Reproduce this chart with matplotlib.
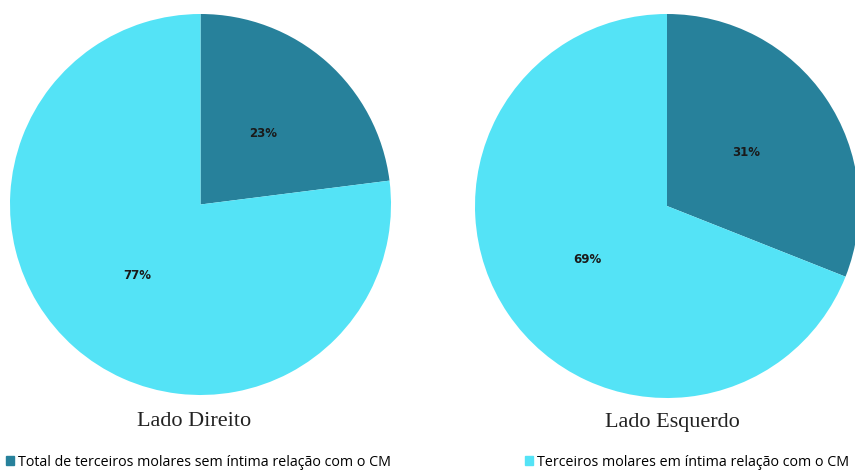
import matplotlib.pyplot as plt
from matplotlib.patches import Patch

# data
categorias = ["Total de terceiros molares sem íntima relação com o CM",
              "Terceiros molares em íntima relação com o CM"]
lado_direito = [23, 77]
lado_esquerdo = [31, 69]
titulos = ["Lado Direito", "Lado Esquerdo"]
cores = ["#27819B", "#54E3F6"]

W, H = 855, 470
fig = plt.figure(figsize=(W / 100, H / 100), dpi=100)

# axes boxes in pixels: (left, top, size)
caixas = [(10, 14, 381), (475, 14, 384)]

for (x0, y0, s), valores in zip(caixas, [lado_direito, lado_esquerdo]):
    ax = fig.add_axes([x0 / W, 1 - (y0 + s) / H, s / W, s / H])
    ax.pie(valores, colors=cores, startangle=90, counterclock=False,
           autopct="%d%%", pctdistance=0.5, radius=1,
           textprops=dict(fontsize=8.5, fontweight="bold", color="#1a1a1a"))
    ax.set_xlim(-1, 1)
    ax.set_ylim(-1, 1)
    ax.axis("off")

fig.text(194 / W, 1 - 421 / H, titulos[0], ha="center", va="center",
         fontsize=16, family="Liberation Serif", color="#222222")
fig.text(672 / W, 1 - 422 / H, titulos[1], ha="center", va="center",
         fontsize=16, family="Liberation Serif", color="#222222")

for i, (xl, cat) in enumerate(zip([0 / W, 519 / W], categorias)):
    fig.legend(handles=[Patch(color=cores[i], label=cat)], loc="center left",
               bbox_to_anchor=(xl, 1 - 462 / H), frameon=False,
               handlelength=0.55, handleheight=0.55, handletextpad=0.3,
               borderaxespad=0, prop=dict(family="Open Sans", size=10.3))

fig.savefig("out.png", dpi=100)
